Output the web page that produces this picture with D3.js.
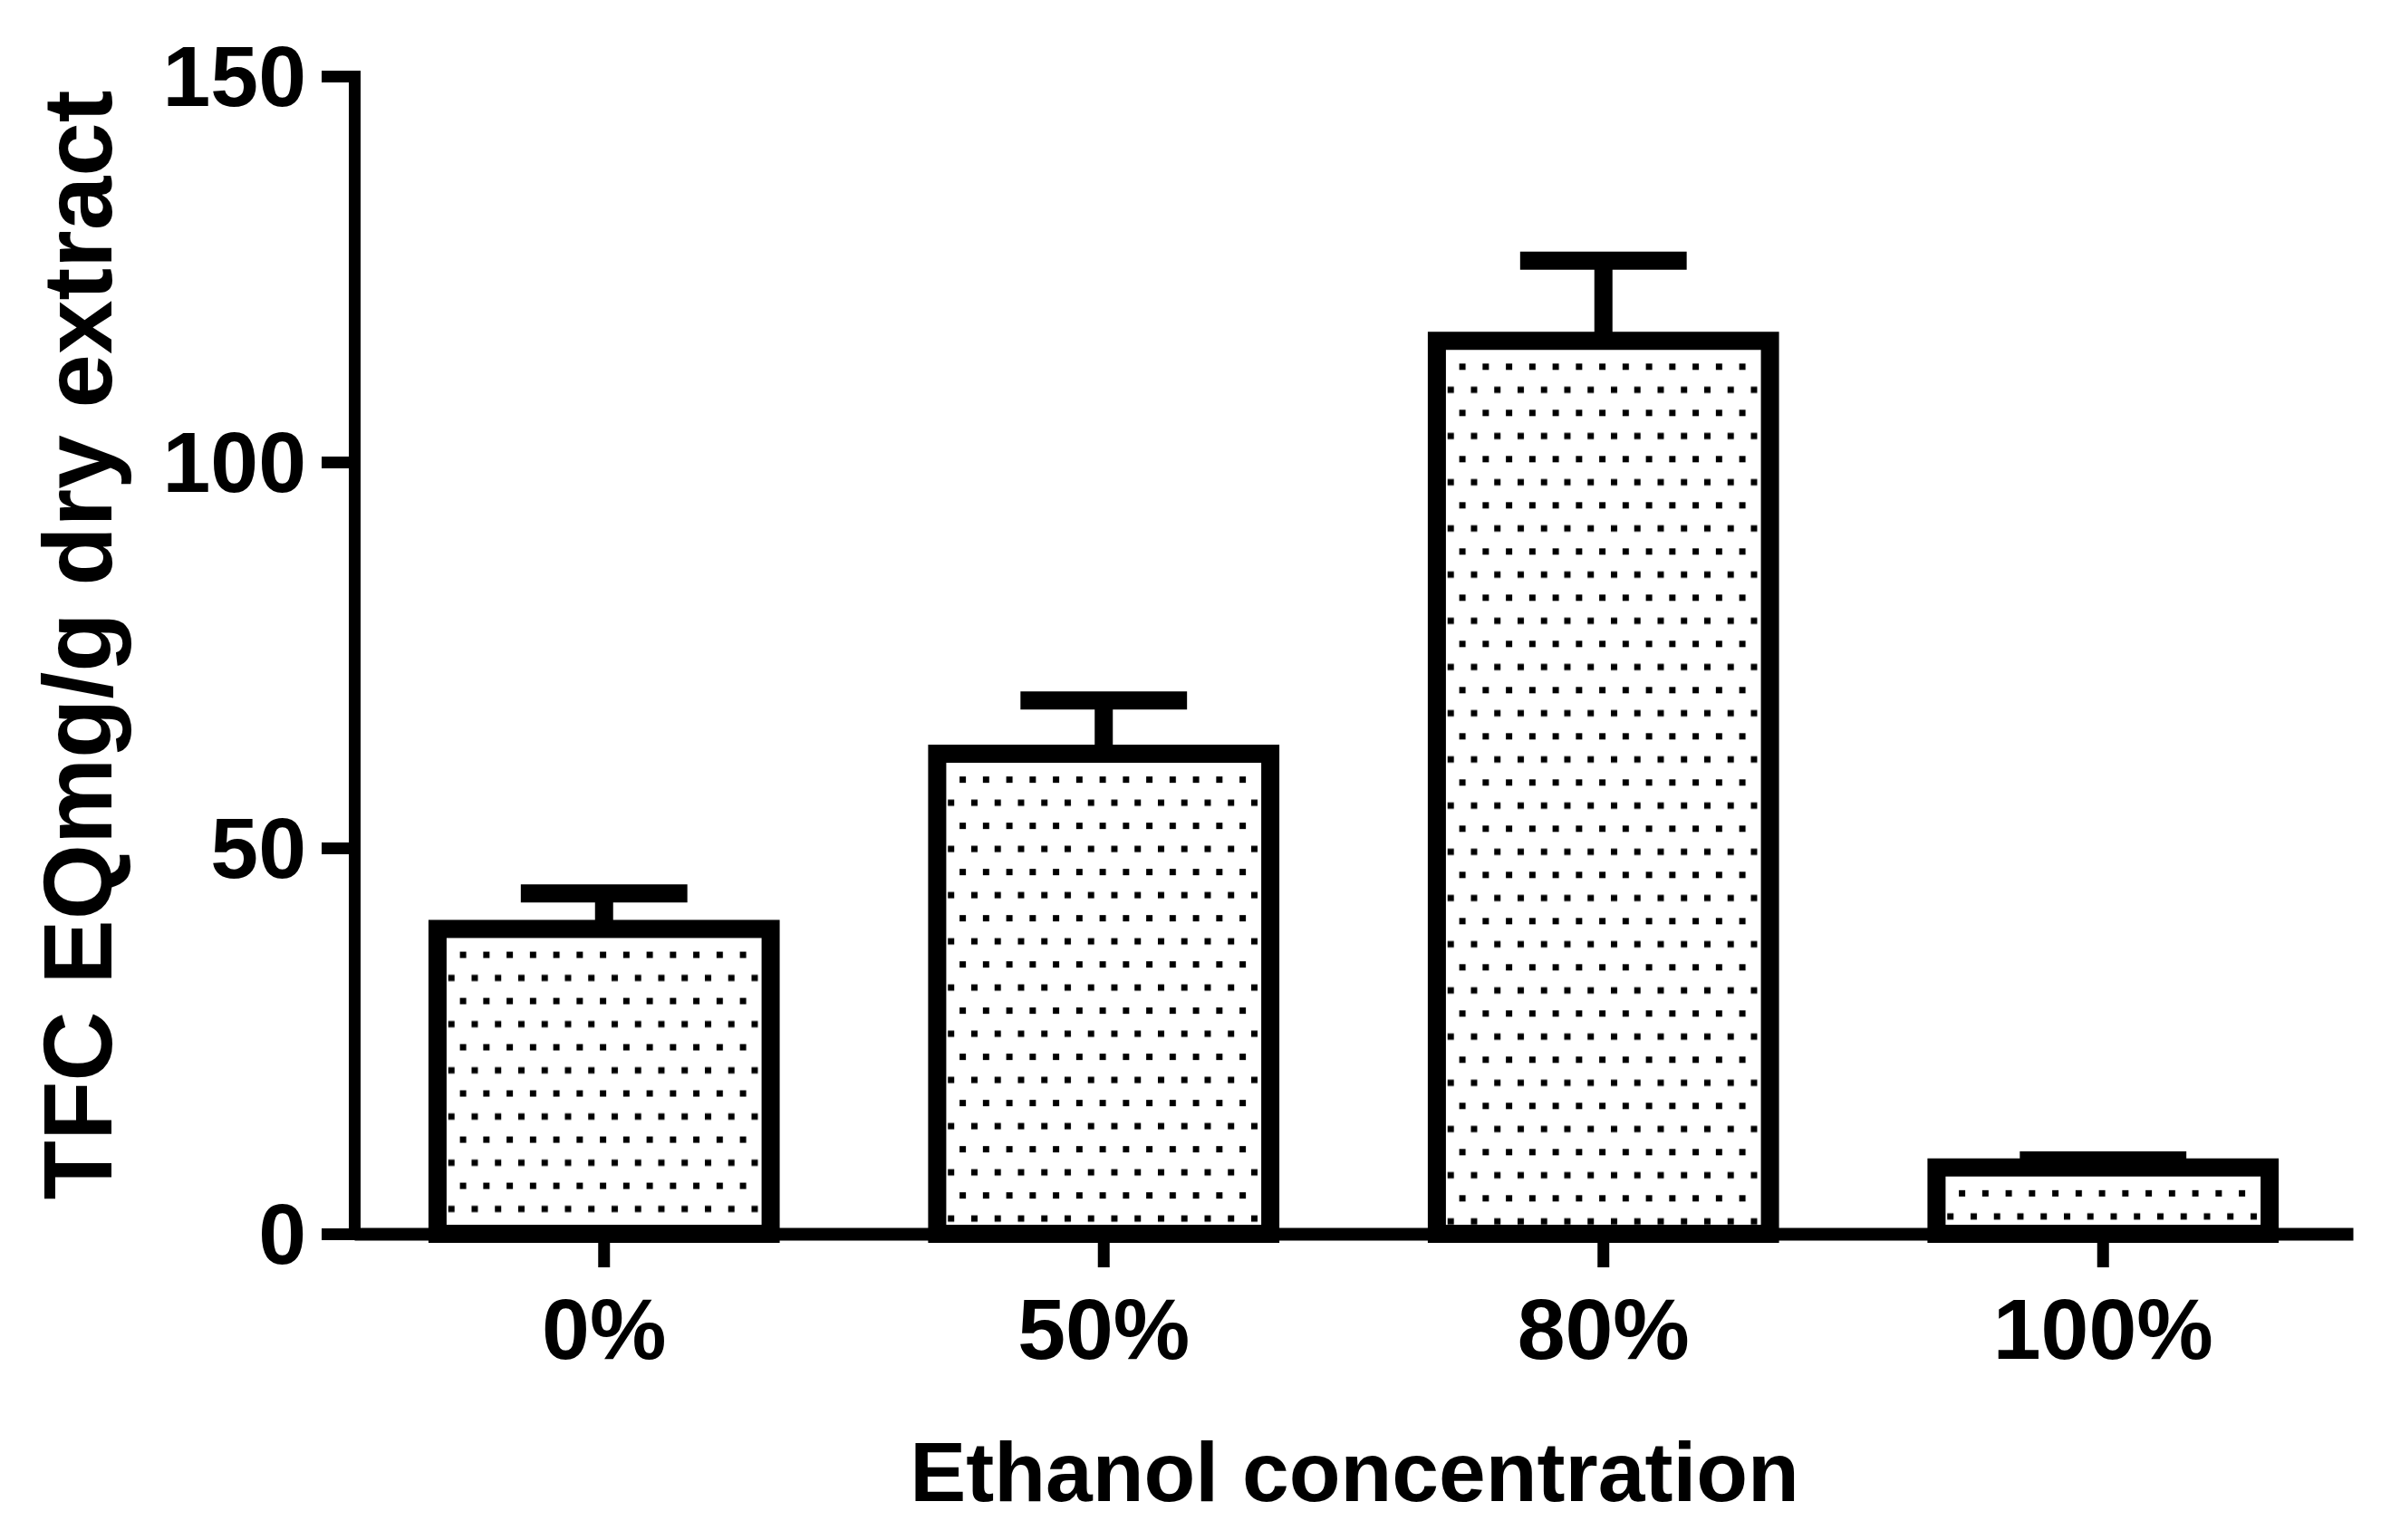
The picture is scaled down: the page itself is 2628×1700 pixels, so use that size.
<!DOCTYPE html>
<html>
<head>
<meta charset="utf-8">
<script src="https://cdn.jsdelivr.net/npm/d3@7"></script>
<style>
  body { margin: 0; background: #fff; }
  text { font-family: "Liberation Sans", Arial, sans-serif; font-weight: bold; }
</style>
</head>
<body>
<script>
var categories = ['0%', '50%', '80%', '100%'];
var means = [39.5, 62.2, 115.7, 8.6];
var errors = [4.6, 6.9, 10.4, 0.9];
var yTicks = [0, 50, 100, 150];

var width = 2628, height = 1700;

var svg = d3.select('body')
  .append('svg')
  .attr('width', width)
  .attr('height', height);

svg.append('rect')
  .attr('width', width)
  .attr('height', height)
  .attr('fill', '#fff');

// dotted fill, anchored at each bar's top-left corner
var pat = svg.append('defs')
  .append('pattern')
  .attr('id', 'dots')
  .attr('patternUnits', 'userSpaceOnUse')
  .attr('x', 24.7)
  .attr('y', 25.1)
  .attr('width', 25.75)
  .attr('height', 51);
pat.append('rect').attr('width', 25.75).attr('height', 51).attr('fill', '#fff');
pat.append('rect').attr('x', 0).attr('y', 0).attr('width', 7).attr('height', 7).attr('fill', '#000');
pat.append('rect').attr('x', 12.875).attr('y', 25.5).attr('width', 7).attr('height', 7).attr('fill', '#000');

var x = d3.scaleBand()
  .domain(categories)
  .range([391, 2597])
  .paddingInner(1 / 3)
  .paddingOuter(1 / 6);

var y = d3.scaleLinear()
  .domain([0, 150])
  .range([1362, 84]);

var data = categories.map(function(c, i) {
  return { cat: c, mean: means[i], err: errors[i] };
});

// error bars (upper only)
var err = svg.append('g')
  .attr('stroke', '#000')
  .attr('stroke-width', 20);

err.selectAll('line.stem')
  .data(data)
  .enter()
  .append('line')
  .attr('class', 'stem')
  .attr('x1', function(d) { return x(d.cat) + x.bandwidth() / 2; })
  .attr('x2', function(d) { return x(d.cat) + x.bandwidth() / 2; })
  .attr('y1', function(d) { return y(d.mean); })
  .attr('y2', function(d) { return y(d.mean + d.err); });

err.selectAll('line.cap')
  .data(data)
  .enter()
  .append('line')
  .attr('class', 'cap')
  .attr('x1', function(d) { return x(d.cat) + x.bandwidth() / 4; })
  .attr('x2', function(d) { return x(d.cat) + x.bandwidth() * 3 / 4; })
  .attr('y1', function(d) { return y(d.mean + d.err); })
  .attr('y2', function(d) { return y(d.mean + d.err); });

// bars
var bars = svg.selectAll('g.bar')
  .data(data)
  .enter()
  .append('g')
  .attr('class', 'bar')
  .attr('transform', function(d) { return 'translate(' + x(d.cat) + ',' + y(d.mean) + ')'; });

bars.append('rect')
  .attr('width', x.bandwidth())
  .attr('height', function(d) { return y(0) - y(d.mean); })
  .attr('fill', 'url(#dots)')
  .attr('stroke', '#000')
  .attr('stroke-width', 20)
  .attr('stroke-linejoin', 'miter');

// axes
var yAxis = svg.append('g')
  .attr('transform', 'translate(391,0)')
  .call(d3.axisLeft(y).tickValues(yTicks).tickSize(36).tickSizeOuter(0).tickPadding(17));

yAxis.select('.domain')
  .attr('stroke-width', 13)
  .attr('stroke-linecap', 'square');
yAxis.selectAll('.tick line').attr('stroke-width', 13);
yAxis.selectAll('.tick text')
  .attr('font-size', 95)
  .attr('font-family', '"Liberation Sans", Arial, sans-serif')
  .attr('font-weight', 'bold')
  .attr('dy', '0.34em');

var xAxis = svg.append('g')
  .attr('transform', 'translate(0,' + y(0) + ')')
  .call(d3.axisBottom(x).tickSize(37).tickSizeOuter(0));

xAxis.select('.domain').attr('stroke-width', 14);
xAxis.selectAll('.tick line').attr('stroke-width', 13);
xAxis.selectAll('.tick text')
  .attr('font-size', 95)
  .attr('font-family', '"Liberation Sans", Arial, sans-serif')
  .attr('font-weight', 'bold')
  .attr('y', 138)
  .attr('dy', null);

// axis titles
svg.append('text')
  .attr('x', 1495)
  .attr('y', 1657)
  .attr('text-anchor', 'middle')
  .attr('font-size', 93)
  .text('Ethanol concentration');

svg.append('text')
  .attr('transform', 'translate(123,712) rotate(-90)')
  .attr('text-anchor', 'middle')
  .attr('font-size', 107)
  .text('TFC EQmg/g dry extract');
</script>
</body>
</html>
